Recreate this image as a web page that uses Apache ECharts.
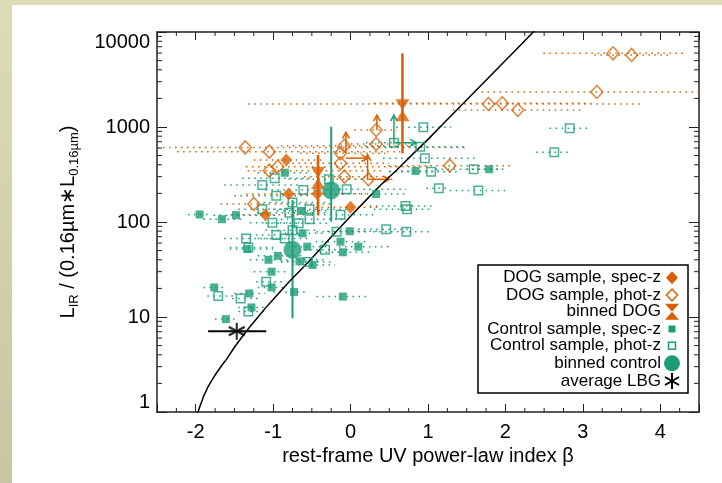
<!DOCTYPE html>
<html><head><meta charset="utf-8">
<script src="https://cdn.jsdelivr.net/npm/echarts@6/dist/echarts.min.js"></script>
<style>
html,body{margin:0;padding:0;width:722px;height:483px;overflow:hidden;background:linear-gradient(#dcdcb6,#c6c6a2);}
#panel{position:absolute;left:12px;top:5px;width:710px;height:478px;background:#fff;}
#chart{position:absolute;left:0;top:0;width:722px;height:483px;}
</style></head><body><div id="panel"></div><div id="chart"></div>
<script>
// ---------------- data ----------------
const xTitle = 'rest-frame UV power-law index β';
const yTickValues = [1, 10, 100, 1000, 10000];

// DOG sample, spec-z
const dogSpecBeta = [-0.83, -0.80, -0.43, 0.00, -1.10];
const dogSpecL    = [450, 197, 198, 143, 119];
const dogSpecLo   = [-1.25, -1.35, -0.90, -0.45, -1.55];
const dogSpecHi   = [-0.35, -0.05, 0.20, 0.35, -0.60];

// DOG sample, phot-z
const dogPhotBeta = [-1.36, -1.05, -1.05, -0.94, -1.25, -0.08, -0.13, -0.13, -0.08, 0.33, 0.33, 0.23, 1.28, 1.78, 1.96, 2.16, 3.18, 3.39, 3.63];
const dogPhotL    = [610, 550, 347, 382, 155, 635, 528, 415, 300, 930, 662, 281, 392, 1746, 1776, 1510, 2336, 5970, 5730];
const dogPhotLo   = [-2.50, -2.24, -1.33, -1.35, -1.68, -0.90, -0.65, -0.75, -0.60, 0.05, -0.15, -0.10, 0.49, -1.32, 0.30, 1.32, 1.69, 2.49, 3.15];
const dogPhotHi   = [1.53, 0.64, 0.45, 1.02, -0.25, 0.75, 0.45, 0.50, 0.55, 0.60, 0.80, 0.55, 2.06, 3.76, 3.10, 3.00, 4.50, 4.32, 4.12];

// binned DOG
const binDogBeta = [-0.42, 0.67];
const binDogL    = [290, 1500];
const binDogLo   = [118, 528];
const binDogHi   = [507, 5970];

// Control sample, spec-z
const ctrlSpecBeta = [-1.95, -1.66, -1.48, -0.85, -0.64, -0.62, -0.56, -1.33, -1.06, -0.94, -1.02, -1.02, -1.31, -1.76, -1.28, -1.61, -0.73, -0.66, -0.49, -0.13, -0.10, -0.01, 0.10, -0.10, 0.33, 0.84, 1.79];
const ctrlSpecL    = [120, 107, 118, 330, 131, 76, 55, 52, 40, 44, 30, 20.5, 17.7, 20.5, 12.6, 9.5, 18.3, 38.6, 35.3, 62, 48, 80, 55, 16.4, 197, 344, 359];
const ctrlSpecLo   = [-2.10, -1.90, -1.77, -1.20, -0.95, -0.85, -0.80, -1.56, -1.30, -1.20, -1.25, -1.20, -1.50, -1.90, -1.45, -1.75, -1.00, -0.90, -0.75, -0.45, -0.40, -0.30, -0.15, -0.44, -0.10, 0.50, 1.50];
const ctrlSpecHi   = [-1.80, -1.40, -0.97, -0.50, -0.30, -0.35, -0.30, -1.00, -0.31, -0.60, -0.80, -0.85, -1.10, -1.60, -1.10, -1.45, -0.57, -0.40, -0.20, 0.20, 0.25, 0.35, 0.55, 0.25, 0.70, 1.20, 1.97];

// Control sample, phot-z
const ctrlPhotBeta = [-1.14, -0.96, -0.61, -0.05, -1.14, -0.75, -0.79, -0.53, -0.53, -1.01, -0.67, -0.13, 0.71, 0.73, -1.35, -0.96, -0.85, -0.75, -0.18, 0.46, 0.72, -1.32, -0.33, -0.55, -1.09, -1.71, -1.42, -1.32, 0.94, 0.90, 0.96, 0.56, -0.28, -0.98, 1.04, 1.59, 1.14, 1.65, 2.83, 2.63];
const ctrlPhotL    = [245, 189, 217, 221, 136, 160, 125, 136, 107, 98, 97, 119, 147, 136, 67, 73, 67, 82, 79, 84, 79, 54, 51, 38, 23.5, 16.6, 15.7, 11.4, 993, 621, 468, 684, 281, 288, 339, 359, 226, 214, 968, 542];
const ctrlPhotLo   = [-1.63, -1.50, -1.10, -0.30, -1.45, -1.20, -1.20, -1.00, -0.90, -1.30, -1.10, -0.50, 0.25, 0.30, -1.63, -1.30, -1.20, -1.10, -0.44, 0.10, 0.29, -1.56, -0.60, -0.90, -1.22, -1.85, -1.53, -1.45, 0.59, 0.20, 0.42, 0.20, -0.80, -1.40, 0.50, 1.10, 0.98, 1.28, 2.57, 2.40];
const ctrlPhotHi   = [-0.62, -0.50, -0.10, 0.72, -0.80, -0.30, -0.30, 0.00, -0.10, -0.60, -0.30, 0.30, 1.07, 1.07, -0.78, -0.60, -0.50, -0.40, 0.25, 0.80, 1.01, -1.00, 0.00, -0.20, -0.83, -1.50, -1.20, -1.10, 1.30, 1.51, 1.63, 0.90, 0.30, -0.50, 1.37, 1.97, 1.28, 2.00, 3.07, 2.83];

// binned control
const binCtrlBeta = [-0.25, -0.75];
const binCtrlL    = [215, 51];
const binCtrlLo   = [101, 9.7];
const binCtrlHi   = [1007, 170];

// average LBG
const lbgBeta = [-1.47];
const lbgL    = [7.1];
const lbgLo   = [-1.84];
const lbgHi   = [-1.09];

// lower-limit arrows (start beta, start L, end beta, end L)
const dogArrowB0 = [0.34, -0.06, -0.06, 0.22, 0.23];
const dogArrowL0 = [930, 560, 470, 290, 281];
const dogArrowB1 = [0.34, -0.06, 0.22, 0.22, 0.50];
const dogArrowL1 = [1336, 880, 470, 510, 281];
const ctrlArrowB0 = [0.56, 0.56];
const ctrlArrowL0 = [684, 684];
const ctrlArrowB1 = [0.56, 0.85];
const ctrlArrowL1 = [1336, 684];

// relation curve
const curveBeta = [-1.99, -1.95, -1.9, -1.85, -1.8, -1.75, -1.7, -1.65, -1.6, -1.5, -1.4, -1.3, -1.2, -1.1, -1.0, -0.8, -0.6, -0.4, -0.2, 0.0, 0.2, 0.4, 0.6, 0.8, 1.0, 1.2, 1.4, 1.6, 1.8, 2.0, 2.2, 2.4];
const curveL    = [0.9, 1.12, 1.45, 1.78, 2.1, 2.45, 2.8, 3.2, 3.6, 4.8, 6.2, 7.9, 9.9, 12.4, 15.3, 23.2, 34, 51, 77, 115, 170, 250, 355, 515, 741, 1087, 1594, 2336, 3424, 5020, 7357, 10800];

const legendLabels = ['DOG sample, spec-z', 'DOG sample, phot-z', 'binned DOG', 'Control sample, spec-z', 'Control sample, phot-z', 'binned control', 'average LBG'];

// ---------------- style ----------------
const ORANGE = '#d95f02';
const GREEN = '#1b9e77';
const FONT = 'Liberation Sans, Arial, Helvetica, sans-serif';
const XMIN = -2.5, XMAX = 4.5, YMIN = 1, YMAX = 10000;

const HOURGLASS = 'path://M-1,-1 L1,-1 L0,0 Z M0,0 L1,1 L-1,1 Z';
const ASTER = 'path://M0,-10 L0,10 M-8.66,-5 L8.66,5 M-8.66,5 L8.66,-5';

function zip2(a, b) { return a.map((v, i) => [v, b[i]]); }

function hErr(beta, L, lo, hi, color, dash, width) {
  return {
    type: 'custom', silent: true, clip: true, z: 2,
    data: beta.map((b, i) => [b, L[i], lo[i], hi[i]]),
    encode: { x: [0, 2, 3], y: 1 },
    renderItem: function (params, api) {
      const p0 = api.coord([api.value(2), api.value(1)]);
      const p1 = api.coord([api.value(3), api.value(1)]);
      const st = { stroke: color, lineWidth: width, fill: null };
      if (dash) st.lineDash = dash;
      return { type: 'line', shape: { x1: p0[0], y1: p0[1], x2: p1[0], y2: p1[1] }, style: st };
    }
  };
}
function vErr(beta, L, lo, hi, color, width) {
  return {
    type: 'custom', silent: true, clip: true, z: 3,
    data: beta.map((b, i) => [b, L[i], lo[i], hi[i]]),
    encode: { x: 0, y: [1, 2, 3] },
    renderItem: function (params, api) {
      const p0 = api.coord([api.value(0), api.value(2)]);
      const p1 = api.coord([api.value(0), api.value(3)]);
      return { type: 'line', shape: { x1: p0[0], y1: p0[1], x2: p1[0], y2: p1[1] },
        style: { stroke: color, lineWidth: width, fill: null } };
    }
  };
}
function arrows(b0, l0, b1, l1, color) {
  return {
    type: 'custom', silent: true, clip: true, z: 3,
    data: b0.map((b, i) => [b, l0[i], b1[i], l1[i]]),
    encode: { x: [0, 2], y: [1, 3] },
    renderItem: function (params, api) {
      const p0 = api.coord([api.value(0), api.value(1)]);
      const p1 = api.coord([api.value(2), api.value(3)]);
      const ang = Math.atan2(p1[1] - p0[1], p1[0] - p0[0]);
      const h = 7, a = 0.5;
      const s = { stroke: color, lineWidth: 1.5, fill: null };
      return { type: 'group', children: [
        { type: 'line', shape: { x1: p0[0], y1: p0[1], x2: p1[0], y2: p1[1] }, style: s },
        { type: 'polyline', shape: { points: [
          [p1[0] - h * Math.cos(ang - a), p1[1] - h * Math.sin(ang - a)],
          [p1[0], p1[1]],
          [p1[0] - h * Math.cos(ang + a), p1[1] - h * Math.sin(ang + a)] ] }, style: s }
      ] };
    }
  };
}

// minor tick positions (axis decoration)
const xMinor = [];
for (let k = -10; k <= 18; k++) { const v = k / 4; if (v > XMIN && v < XMAX && k % 4 !== 0) xMinor.push(v); }
const yMinor = [];
[1, 10, 100, 1000].forEach(d => { for (let m = 2; m <= 9; m++) yMinor.push(d * m); });

const minorTicks = {
  type: 'custom', silent: true, clip: false, z: 5,
  data: [[0, 10]],
  encode: { x: 0, y: 1 },
  renderItem: function (params, api) {
    const ch = [];
    const st = { stroke: '#222', lineWidth: 1, fill: null };
    xMinor.forEach(v => {
      const pb = api.coord([v, YMIN]), pt = api.coord([v, YMAX]);
      ch.push({ type: 'line', shape: { x1: pb[0], y1: pb[1], x2: pb[0], y2: pb[1] - 4 }, style: st });
      ch.push({ type: 'line', shape: { x1: pt[0], y1: pt[1], x2: pt[0], y2: pt[1] + 4 }, style: st });
    });
    yMinor.forEach(v => {
      const pl = api.coord([XMIN, v]), pr = api.coord([XMAX, v]);
      ch.push({ type: 'line', shape: { x1: pl[0], y1: pl[1], x2: pl[0] + 5, y2: pl[1] }, style: st });
      ch.push({ type: 'line', shape: { x1: pr[0], y1: pr[1], x2: pr[0] - 5, y2: pr[1] }, style: st });
    });
    return { type: 'group', children: ch };
  }
};

const axisLine = { onZero: false, lineStyle: { color: '#222', width: 1.5 } };
const fmtY = v => String(Math.round(v));
const fmtX = v => (Math.abs(v - Math.round(v)) < 1e-9 ? String(Math.round(v)) : '');

// legend (drawn as graphic, real text)
const LX = 478, LY = 265, LW = 210, LH = 128;
const rowY = [277.7, 295, 311.7, 329, 345.7, 363.3, 381];
const iconX = 672, textX = 661;
const lg = [{ type: 'rect', shape: { x: LX, y: LY, width: LW, height: LH }, style: { fill: '#fff', stroke: '#000', lineWidth: 1.5 } }];
legendLabels.forEach((t, i) => {
  lg.push({ type: 'text', x: textX, y: rowY[i], style: { text: t, font: '17px ' + FONT, fill: '#000', align: 'right', verticalAlign: 'middle' } });
});
function dia(cx, cy, w, h) { return [[cx, cy - h / 2], [cx + w / 2, cy], [cx, cy + h / 2], [cx - w / 2, cy]]; }
lg.push({ type: 'polygon', shape: { points: dia(iconX, rowY[0], 12, 13) }, style: { fill: ORANGE } });
lg.push({ type: 'polygon', shape: { points: dia(iconX, rowY[1], 11, 12) }, style: { fill: null, stroke: ORANGE, lineWidth: 1.5 } });
lg.push({ type: 'polygon', shape: { points: [[iconX - 7, rowY[2] - 8], [iconX + 7, rowY[2] - 8], [iconX, rowY[2]], [iconX + 7, rowY[2] + 8], [iconX - 7, rowY[2] + 8], [iconX, rowY[2]]] }, style: { fill: ORANGE } });
lg.push({ type: 'rect', shape: { x: iconX - 3.5, y: rowY[3] - 3.5, width: 7, height: 7 }, style: { fill: GREEN } });
lg.push({ type: 'rect', shape: { x: iconX - 3.5, y: rowY[4] - 3.5, width: 7, height: 7 }, style: { fill: null, stroke: GREEN, lineWidth: 1.5 } });
lg.push({ type: 'circle', shape: { cx: iconX, cy: rowY[5], r: 8 }, style: { fill: GREEN } });
const astS = { stroke: '#000', lineWidth: 2 };
lg.push({ type: 'line', shape: { x1: iconX, y1: rowY[6] - 8, x2: iconX, y2: rowY[6] + 8 }, style: astS });
lg.push({ type: 'line', shape: { x1: iconX - 7, y1: rowY[6] - 4, x2: iconX + 7, y2: rowY[6] + 4 }, style: astS });
lg.push({ type: 'line', shape: { x1: iconX - 7, y1: rowY[6] + 4, x2: iconX + 7, y2: rowY[6] - 4 }, style: astS });

const chart = echarts.init(document.getElementById('chart'), null, { renderer: 'canvas' });
chart.setOption({
  animation: false,
  backgroundColor: 'transparent',
  textStyle: { fontFamily: FONT },
  grid: { left: 157, right: 23, top: 32, bottom: 71, containLabel: false },
  xAxis: [
    { type: 'value', min: XMIN, max: XMAX, splitNumber: 7, position: 'bottom',
      axisLine: axisLine, axisTick: { inside: true, length: 8, lineStyle: { color: '#222', width: 1 } },
      splitLine: { show: false },
      axisLabel: { formatter: fmtX, fontSize: 20, color: '#000', margin: 10, fontFamily: FONT },
      name: xTitle, nameLocation: 'middle', nameGap: 34,
      nameTextStyle: { fontSize: 20, color: '#000', fontFamily: FONT } },
    { type: 'value', min: XMIN, max: XMAX, splitNumber: 7, position: 'top',
      axisLine: axisLine, axisTick: { inside: true, length: 8, lineStyle: { color: '#222', width: 1 } },
      splitLine: { show: false }, axisLabel: { show: false } }
  ],
  yAxis: [
    { type: 'log', logBase: 10, min: YMIN, max: YMAX, position: 'left',
      axisLine: axisLine, axisTick: { inside: true, length: 10, lineStyle: { color: '#222', width: 1 } },
      splitLine: { show: false },
      axisLabel: { formatter: fmtY, fontSize: 20, color: '#000', margin: 7, fontFamily: FONT,
        verticalAlignMaxLabel: 'top', verticalAlignMinLabel: 'bottom' },
      name: '{m|L}{s|IR}{m| / (0.16µm∗L}{s|0.16µm}{m|)}', nameLocation: 'middle', nameGap: 76, nameRotate: 90,
      nameTextStyle: { fontSize: 20, color: '#000', fontFamily: FONT,
        rich: { m: { fontSize: 20, lineHeight: 26, verticalAlign: 'middle', fontFamily: FONT, color: '#000' },
                s: { fontSize: 13, lineHeight: 13, verticalAlign: 'bottom', fontFamily: FONT, color: '#000' } } } },
    { type: 'log', logBase: 10, min: YMIN, max: YMAX, position: 'right',
      axisLine: axisLine, axisTick: { inside: true, length: 10, lineStyle: { color: '#222', width: 1 } },
      splitLine: { show: false }, axisLabel: { show: false } }
  ],
  graphic: [{ type: 'group', z: 100, children: lg }],
  series: [
    minorTicks,
    hErr(ctrlPhotBeta, ctrlPhotL, ctrlPhotLo, ctrlPhotHi, GREEN, [1.5, 4.5], 1.5),
    hErr(ctrlSpecBeta, ctrlSpecL, ctrlSpecLo, ctrlSpecHi, GREEN, [1.5, 4.5], 1.5),
    hErr(dogPhotBeta, dogPhotL, dogPhotLo, dogPhotHi, ORANGE, [1.5, 4.5], 1.5),
    hErr(dogSpecBeta, dogSpecL, dogSpecLo, dogSpecHi, ORANGE, [1.5, 4.5], 1.5),
    { type: 'line', name: 'relation', data: zip2(curveBeta, curveL), showSymbol: false, symbol: 'none',
      smooth: false,
      lineStyle: { color: '#000', width: 1.5 }, silent: true, z: 3, clip: true },
    { type: 'scatter', name: legendLabels[4], data: zip2(ctrlPhotBeta, ctrlPhotL), symbol: 'rect', symbolSize: 8.5,
      itemStyle: { color: 'rgba(255,255,255,0)', borderColor: GREEN, borderWidth: 1.5 }, z: 4 },
    { type: 'scatter', name: legendLabels[3], data: zip2(ctrlSpecBeta, ctrlSpecL), symbol: 'rect', symbolSize: 8,
      itemStyle: { color: GREEN }, z: 4 },
    vErr(binCtrlBeta, binCtrlL, binCtrlLo, binCtrlHi, GREEN, 2),
    { type: 'scatter', name: legendLabels[5], data: zip2(binCtrlBeta, binCtrlL), symbol: 'circle', symbolSize: 18,
      itemStyle: { color: GREEN }, z: 5 },
    arrows(ctrlArrowB0, ctrlArrowL0, ctrlArrowB1, ctrlArrowL1, GREEN),
    { type: 'scatter', name: legendLabels[1], data: zip2(dogPhotBeta, dogPhotL), symbol: 'diamond', symbolSize: [12, 13],
      itemStyle: { color: 'rgba(255,255,255,0)', borderColor: ORANGE, borderWidth: 1.5 }, z: 5 },
    { type: 'scatter', name: legendLabels[0], data: zip2(dogSpecBeta, dogSpecL), symbol: 'diamond', symbolSize: [12, 13],
      itemStyle: { color: ORANGE }, z: 5 },
    arrows(dogArrowB0, dogArrowL0, dogArrowB1, dogArrowL1, ORANGE),
    vErr(binDogBeta, binDogL, binDogLo, binDogHi, ORANGE, 2.5),
    { type: 'scatter', name: legendLabels[2], data: zip2(binDogBeta, binDogL), symbol: HOURGLASS, symbolSize: [14, 22],
      itemStyle: { color: ORANGE }, z: 6 },
    hErr(lbgBeta, lbgL, lbgLo, lbgHi, '#000', null, 2),
    { type: 'scatter', name: legendLabels[6], data: zip2(lbgBeta, lbgL), symbol: ASTER, symbolSize: [16, 17],
      itemStyle: { color: 'rgba(0,0,0,0)', borderColor: '#000', borderWidth: 2.2 }, z: 6 }
  ]
});
</script></body></html>
